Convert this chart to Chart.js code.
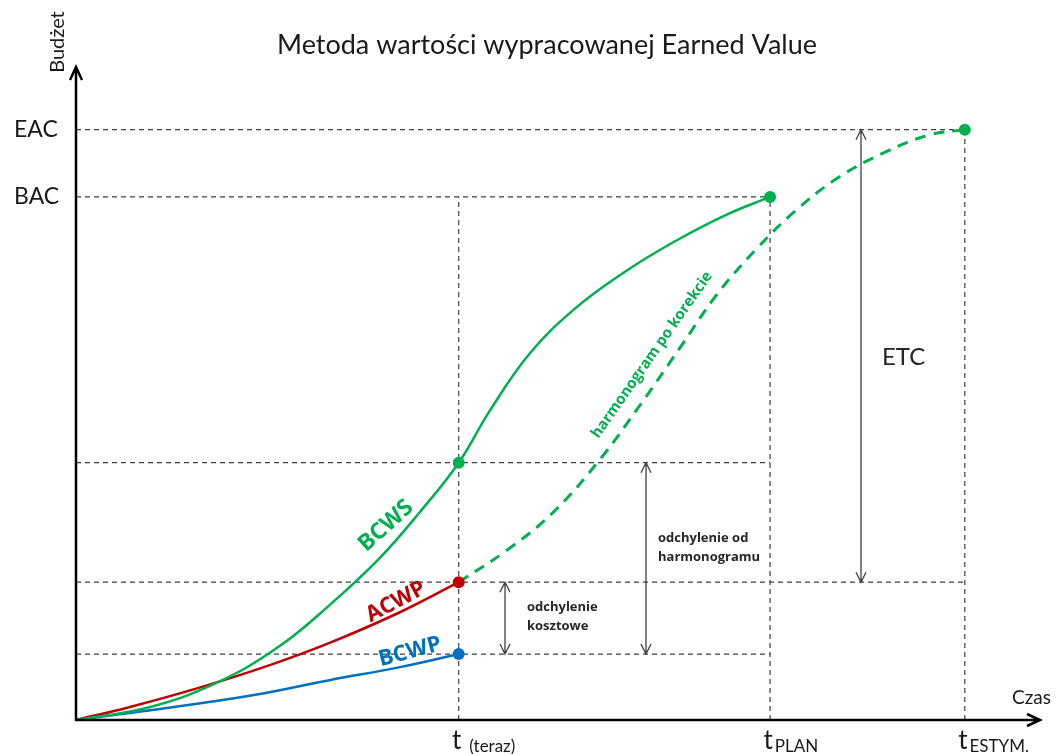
<!DOCTYPE html>
<html lang="pl">
<head>
<meta charset="utf-8">
<title>Metoda wartości wypracowanej Earned Value</title>
<script src="https://cdn.jsdelivr.net/npm/chart.js@4.4.1/dist/chart.umd.min.js"></script>
<style>
    html, body { margin: 0; padding: 0; background: #fff; }
    #wrap { width: 1056px; height: 754px; }
</style>
</head>
<body>
<div id="wrap"><canvas id="GraficoEV"></canvas></div>
<script>
// os czasu i budzetu w jednostkach umownych (0 - 100)
var tCzas = [39.7, 72.0, 92.2];              // t(teraz), tPLAN, tESTYM.
var tOpisy = ["(teraz)", "PLAN", "ESTYM."];
var poziomy = [90.4, 80.1];                  // EAC, BAC
var poziomyOpisy = ["EAC", "BAC"];
var naTeraz = [39.4, 21.1, 10.1];            // BCWS, ACWP, BCWP w chwili t(teraz)

var bcwsX = [0, 7.7, 14.9, 21.2, 26.3, 31.5, 35.7, 39.7, 42.9, 47.0, 51.6, 56.8, 62.0, 67.5, 72.0];
var bcwsY = [0, 2.0, 5.9, 11.4, 17.6, 24.8, 31.9, 39.4, 47.3, 56.0, 62.8, 68.5, 73.2, 77.4, 80.1];

var acwpX = [0, 5.6, 12.9, 20.1, 26.3, 33.6, 39.7];
var acwpY = [0, 2.0, 5.0, 8.4, 11.8, 16.5, 21.1];

var bcwpX = [0, 8.7, 18.0, 26.3, 33.6, 39.7];
var bcwpY = [0, 1.7, 3.7, 6.1, 8.1, 10.1];

var korektaX = [39.7, 44.7, 49.5, 54.4, 58.5, 62.7, 66.5, 70.5, 74.5, 79.0, 84.0, 88.5, 92.2];
var korektaY = [21.1, 26.0, 31.8, 40.0, 48.2, 57.1, 65.2, 72.0, 77.8, 83.0, 87.0, 89.6, 90.4];

var ZIELONY = "#00B050", CZERWONY = "#C00000", NIEBIESKI = "#0070C0", SZARY = "#404040";

function punkty(xs, ys) {
    return xs.map(function (x, i) { return { x: x, y: ys[i] }; });
}

function linia(dane, kolor, szer, kreska, kolejnosc) {
    return {
        data: dane,
        showLine: true,
        borderColor: kolor,
        borderWidth: szer,
        borderDash: kreska || [],
        pointRadius: 0,
        tension: 0.4,
        clip: false,
        order: kolejnosc
    };
}

var EAC = poziomy[0], BAC = poziomy[1];
var tT = tCzas[0], tP = tCzas[1], tE = tCzas[2];

var pomocnicze = [
    [{ x: 0, y: EAC }, { x: tE, y: EAC }],
    [{ x: 0, y: BAC }, { x: tP, y: BAC }],
    [{ x: 0, y: naTeraz[0] }, { x: tP, y: naTeraz[0] }],
    [{ x: 0, y: naTeraz[1] }, { x: tE, y: naTeraz[1] }],
    [{ x: 0, y: naTeraz[2] }, { x: tP, y: naTeraz[2] }],
    [{ x: tT, y: 0 }, { x: tT, y: BAC }],
    [{ x: tP, y: 0 }, { x: tP, y: BAC }],
    [{ x: tE, y: 0 }, { x: tE, y: EAC }]
];

var zbiory = pomocnicze.map(function (d) {
    var l = linia(d, SZARY, 1.2, [5, 4], 4);
    l.tension = 0;
    return l;
});
zbiory.push(linia(punkty(bcwsX, bcwsY), ZIELONY, 2.5, null, 2));
zbiory.push(linia(punkty(acwpX, acwpY), CZERWONY, 2.5, null, 2));
zbiory.push(linia(punkty(bcwpX, bcwpY), NIEBIESKI, 2.5, null, 2));
zbiory.push(linia(punkty(korektaX, korektaY), ZIELONY, 3, [11, 8], 3));
zbiory.push({
    data: [
        { x: tT, y: naTeraz[0] }, { x: tT, y: naTeraz[1] }, { x: tT, y: naTeraz[2] },
        { x: tP, y: BAC }, { x: tE, y: EAC }
    ],
    showLine: false,
    pointRadius: 6,
    pointBorderWidth: 0,
    pointBackgroundColor: [ZIELONY, CZERWONY, NIEBIESKI, ZIELONY, ZIELONY],
    clip: false,
    order: 1
});

function strzalkaPionowa(ctx, x, y1, y2) {
    ctx.beginPath();
    ctx.moveTo(x, y1); ctx.lineTo(x, y2);
    ctx.moveTo(x - 5, y1 + 10); ctx.lineTo(x, y1); ctx.lineTo(x + 5, y1 + 10);
    ctx.moveTo(x - 5, y2 - 10); ctx.lineTo(x, y2); ctx.lineTo(x + 5, y2 - 10);
    ctx.stroke();
}

function tekstObrocony(ctx, txt, x, y, kat, font, kolor) {
    ctx.save();
    ctx.translate(x, y);
    ctx.rotate(kat * Math.PI / 180);
    ctx.font = font;
    ctx.fillStyle = kolor;
    ctx.textAlign = "center";
    ctx.textBaseline = "middle";
    ctx.fillText(txt, 0, 0);
    ctx.restore();
}

var opisy = {
    id: "opisy",
    afterDraw: function (chart) {
        var ctx = chart.ctx;
        var sx = chart.scales.x, sy = chart.scales.y;
        var x0 = sx.getPixelForValue(0), y0 = sy.getPixelForValue(0);
        var xMax = sx.getPixelForValue(100), yMax = sy.getPixelForValue(100);

        ctx.save();
        // osie ze strzalkami
        ctx.strokeStyle = "#000";
        ctx.lineWidth = 2.5;
        ctx.beginPath();
        ctx.moveTo(x0, y0); ctx.lineTo(xMax, y0);
        ctx.moveTo(xMax - 13, y0 - 6); ctx.lineTo(xMax, y0); ctx.lineTo(xMax - 13, y0 + 6);
        ctx.moveTo(x0, y0 + 1); ctx.lineTo(x0, yMax);
        ctx.moveTo(x0 - 6, yMax + 13); ctx.lineTo(x0, yMax); ctx.lineTo(x0 + 6, yMax + 13);
        ctx.stroke();

        // tytul
        ctx.fillStyle = "#1a1a1a";
        ctx.font = "27px Lato";
        ctx.textAlign = "center";
        ctx.textBaseline = "middle";
        ctx.fillText("Metoda wartości wypracowanej Earned Value", 547, 45);

        // opisy osi
        tekstObrocony(ctx, "Budżet", x0 - 18, 42, -90, "20px Lato", "#1a1a1a");
        ctx.font = "19px Lato";
        ctx.textAlign = "left";
        ctx.fillText("Czas", 1012, 698);

        ctx.font = "23px Lato";
        poziomy.forEach(function (v, i) {
            ctx.fillText(poziomyOpisy[i], 14, sy.getPixelForValue(v));
        });

        // t na osi czasu
        tCzas.forEach(function (t, i) {
            var px = sx.getPixelForValue(t);
            ctx.font = "26px Lato";
            ctx.textAlign = "left";
            ctx.textBaseline = "alphabetic";
            var w = ctx.measureText("t").width;
            ctx.fillText("t", px - w / 2 - 2, 749);
            ctx.font = "17px Lato";
            ctx.fillText(tOpisy[i], px + w / 2 + (i === 0 ? 6 : 0), 752);
        });

        // strzalki odchylen
        ctx.strokeStyle = SZARY;
        ctx.lineWidth = 1.3;
        strzalkaPionowa(ctx, 505, sy.getPixelForValue(naTeraz[1]), sy.getPixelForValue(naTeraz[2]));
        strzalkaPionowa(ctx, 646, sy.getPixelForValue(naTeraz[0]), sy.getPixelForValue(naTeraz[2]));
        strzalkaPionowa(ctx, 861, sy.getPixelForValue(EAC), sy.getPixelForValue(naTeraz[1]));

        ctx.fillStyle = "#262626";
        ctx.textAlign = "left";
        ctx.textBaseline = "middle";
        ctx.font = "bold 13px 'Open Sans'";
        ctx.fillText("odchylenie", 527, 607);
        ctx.fillText("kosztowe", 527, 626);
        ctx.fillText("odchylenie od", 658, 538);
        ctx.fillText("harmonogramu", 658, 557);
        ctx.font = "24px Lato";
        ctx.fillText("ETC", 882, 357);

        // nazwy krzywych
        tekstObrocony(ctx, "BCWS", 386, 526, -42, "bold 23px 'Open Sans'", ZIELONY);
        tekstObrocony(ctx, "ACWP", 396, 602, -28, "bold 22px 'Open Sans'", CZERWONY);
        tekstObrocony(ctx, "BCWP", 410, 652, -15, "bold 22px 'Open Sans'", NIEBIESKI);
        tekstObrocony(ctx, "harmonogram po korekcie", 652, 355, -55, "bold 15px 'Open Sans'", ZIELONY);
        ctx.restore();
    }
};

var ctx = document.getElementById("GraficoEV").getContext("2d");
var grafico = new Chart(ctx, {
    type: "scatter",
    data: { datasets: zbiory },
    options: {
        responsive: true,
        maintainAspectRatio: false,
        animation: false,
        layout: { padding: { left: 76, right: 16, top: 67, bottom: 34 } },
        scales: {
            x: { type: "linear", min: 0, max: 100, display: false },
            y: { type: "linear", min: 0, max: 100, display: false }
        },
        plugins: {
            legend: { display: false },
            tooltip: { enabled: false },
            title: { display: false }
        }
    },
    plugins: [opisy]
});
</script>
</body>
</html>
